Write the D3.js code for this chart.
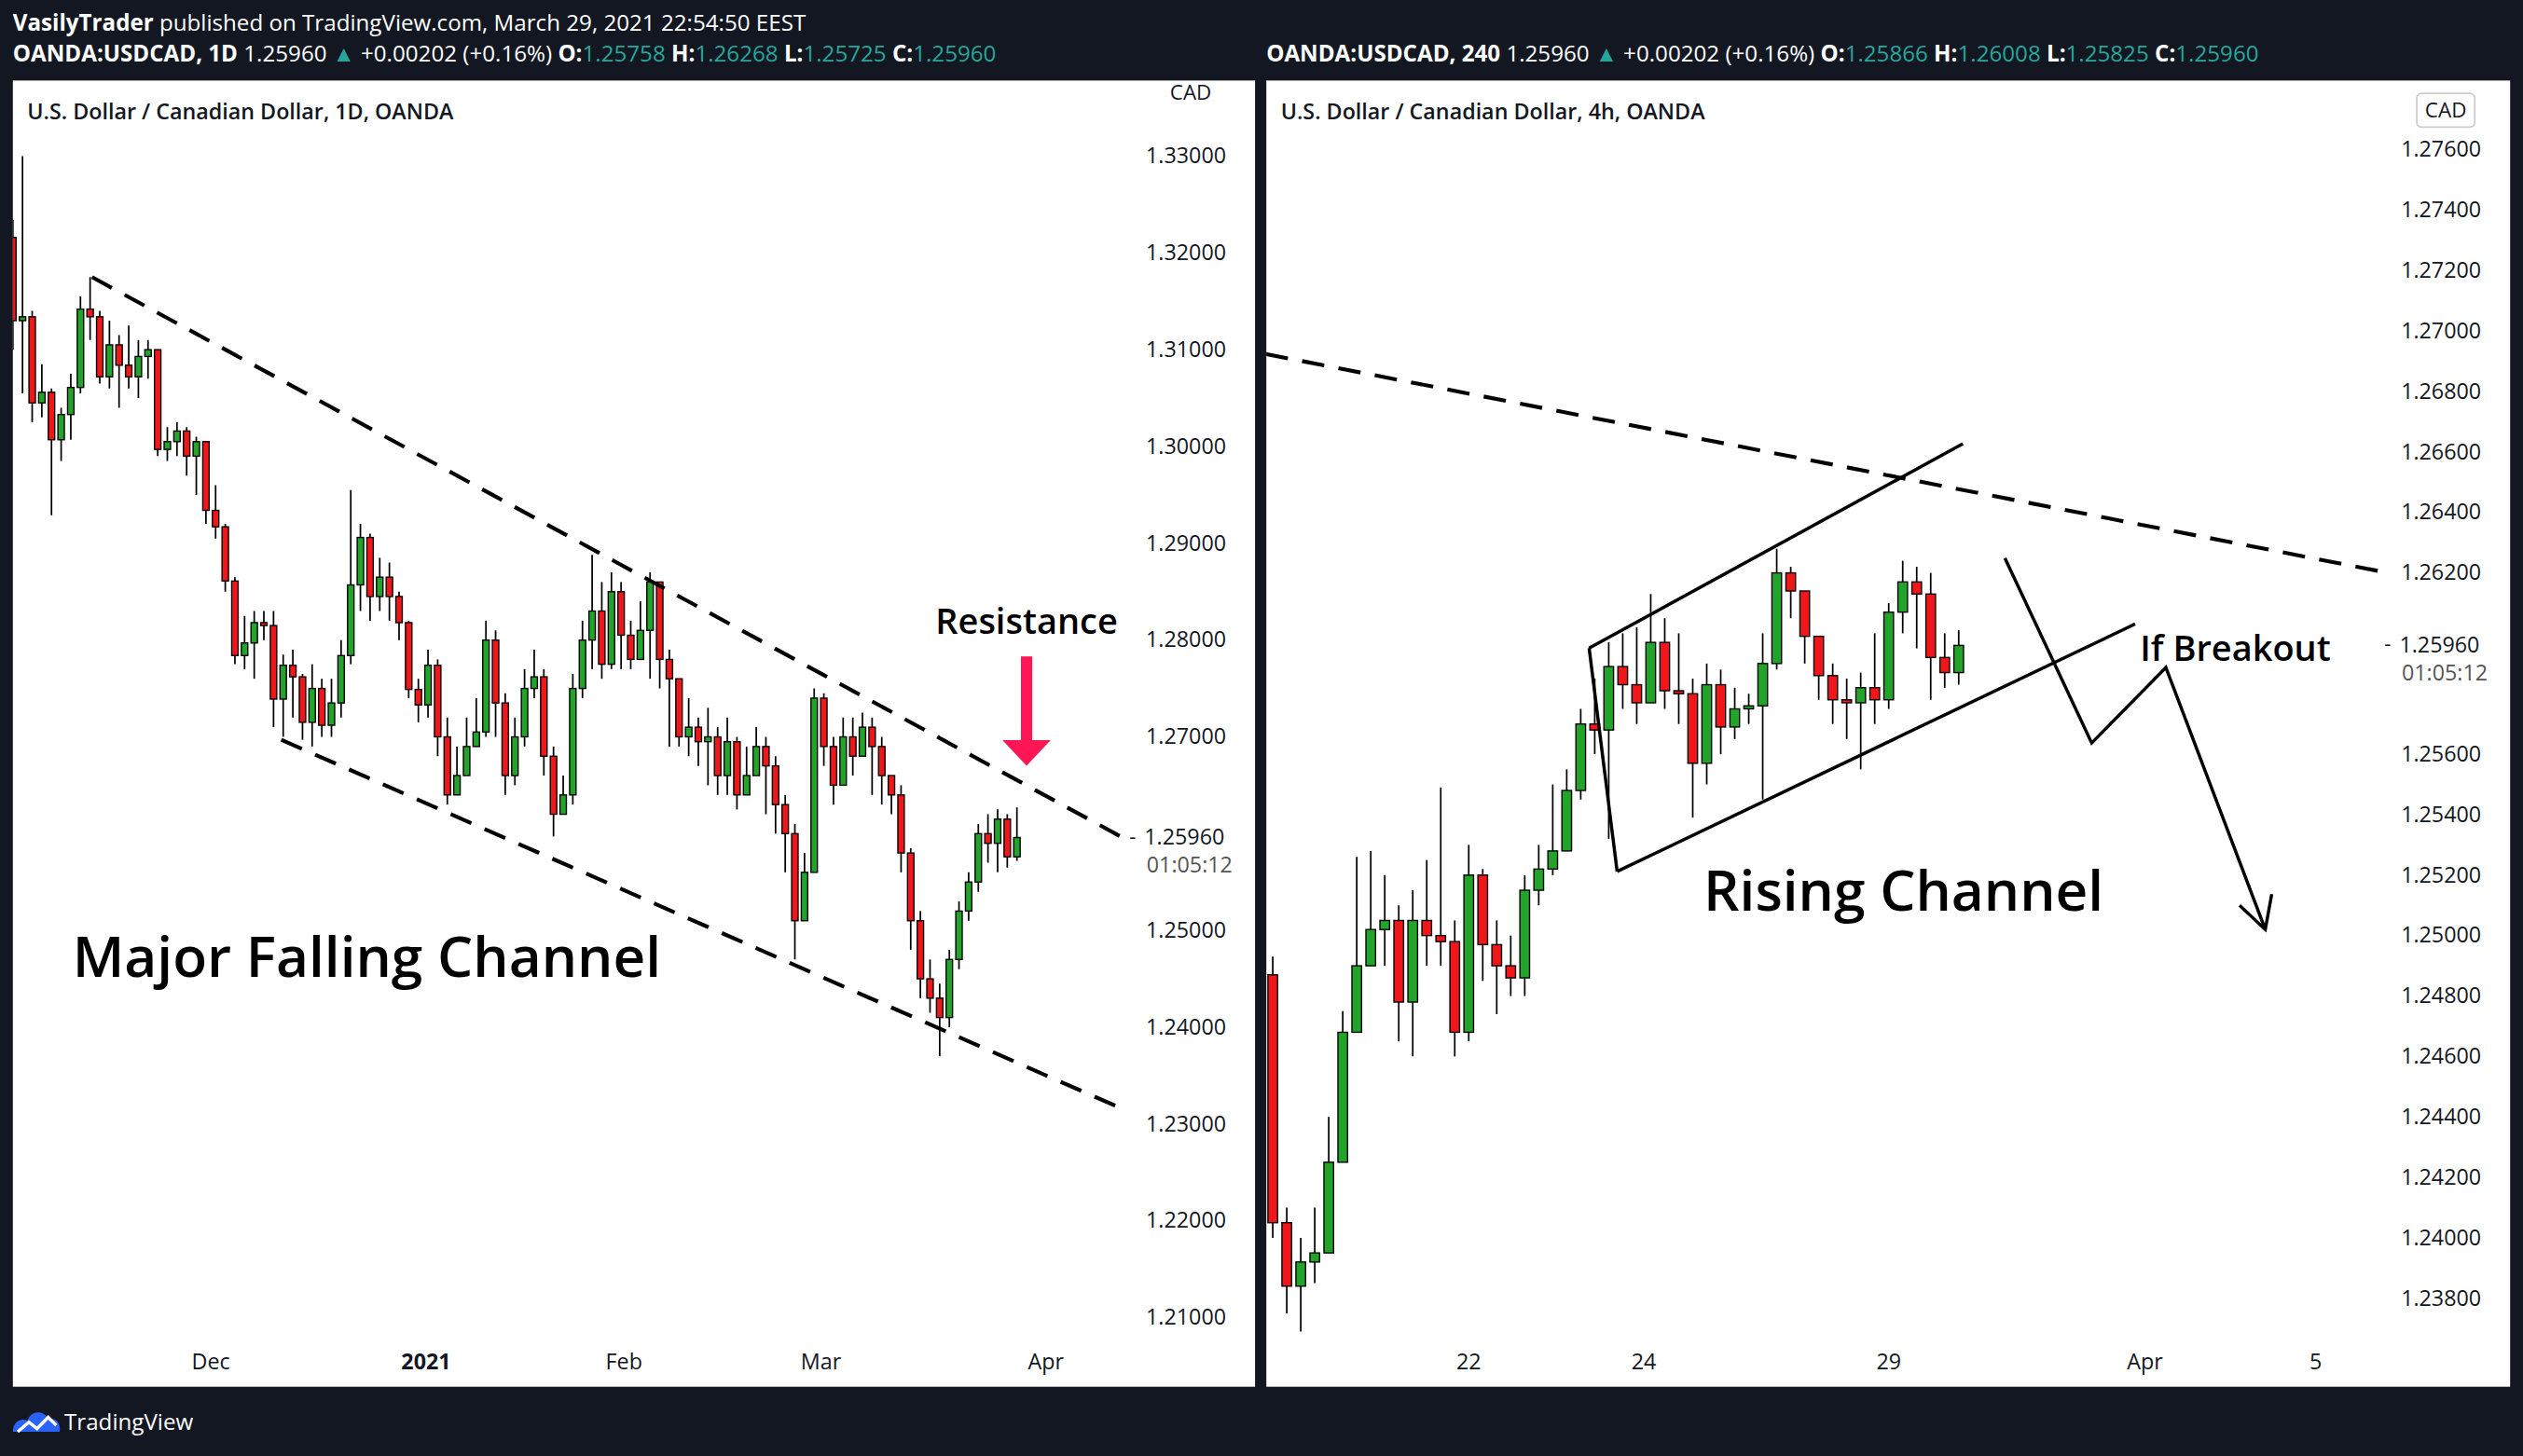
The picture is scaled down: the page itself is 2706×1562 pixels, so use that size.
<!DOCTYPE html>
<html><head><meta charset="utf-8">
<script src="https://cdn.jsdelivr.net/npm/d3@7"></script>
<style>body{margin:0;background:#131722;} text{font-family:"Open Sans",sans-serif;}</style>
</head><body>
<svg id="c" width="2706" height="1562" viewBox="0 0 1568 905"></svg>
<script>
// ---- daily chart data ----
var dOpen0 = 1.3216;
var dClose = [1.3130,1.3134,1.3045,1.3056,1.3007,1.3033,1.3061,1.3142,1.3134,1.3072,
  1.3105,1.3084,1.3072,1.3093,1.3100,1.2997,1.3005,1.3016,1.2990,1.3005,
  1.2934,1.2917,1.2861,1.2784,1.2797,1.2818,1.2815,1.2739,1.2774,1.2762,
  1.2715,1.2750,1.2712,1.2735,1.2784,1.2857,1.2906,1.2845,1.2865,1.2845,
  1.2818,1.2749,1.2733,1.2774,1.2700,1.2640,1.2660,1.2690,1.2705,1.2800,
  1.2735,1.2660,1.2700,1.2750,1.2762,1.2680,1.2620,1.2640,1.2750,1.2800,
  1.2830,1.2775,1.2850,1.2805,1.2780,1.2810,1.2860,1.2780,1.2760,1.2700,
  1.2710,1.2695,1.2700,1.2660,1.2695,1.2640,1.2660,1.2690,1.2670,1.2630,
  1.2600,1.2510,1.2560,1.2740,1.2690,1.2650,1.2700,1.2680,1.2710,1.2690,
  1.2660,1.2640,1.2580,1.2510,1.2450,1.2430,1.2410,1.2470,1.2520,1.2550,
  1.2600,1.2590,1.2615,1.2576,1.2596];
var dHigh = [1.3234,1.3300,1.3140,1.3085,1.3060,1.3040,1.3075,1.3155,1.3175,1.3140,
  1.3130,1.3115,1.3125,1.3110,1.3110,1.3100,1.3020,1.3025,1.3020,1.3010,
  1.3005,1.2960,1.2920,1.2865,1.2825,1.2830,1.2830,1.2830,1.2785,1.2790,
  1.2765,1.2775,1.2760,1.2760,1.2800,1.2955,1.2920,1.2910,1.2885,1.2880,
  1.2850,1.2820,1.2760,1.2790,1.2780,1.2720,1.2690,1.2720,1.2740,1.2820,
  1.2810,1.2745,1.2720,1.2770,1.2790,1.2770,1.2690,1.2660,1.2765,1.2820,
  1.2888,1.2860,1.2870,1.2860,1.2820,1.2840,1.2870,1.2860,1.2790,1.2760,
  1.2740,1.2720,1.2730,1.2710,1.2720,1.2700,1.2690,1.2710,1.2700,1.2680,
  1.2640,1.2610,1.2580,1.2750,1.2745,1.2700,1.2720,1.2720,1.2725,1.2720,
  1.2700,1.2660,1.2650,1.2585,1.2520,1.2470,1.2445,1.2480,1.2530,1.2560,
  1.2610,1.2620,1.2625,1.2620,1.2627];
var dLow = [1.3100,1.3055,1.3025,1.3030,1.2929,1.2985,1.3007,1.3055,1.3110,1.3065,
  1.3060,1.3040,1.3060,1.3050,1.3070,1.2990,1.2985,1.2990,1.2970,1.2950,
  1.2920,1.2905,1.2850,1.2775,1.2770,1.2760,1.2800,1.2710,1.2700,1.2720,
  1.2697,1.2690,1.2700,1.2700,1.2720,1.2775,1.2830,1.2820,1.2830,1.2820,
  1.2800,1.2740,1.2715,1.2720,1.2680,1.2630,1.2640,1.2670,1.2690,1.2700,
  1.2700,1.2640,1.2650,1.2690,1.2740,1.2660,1.2597,1.2620,1.2630,1.2740,
  1.2770,1.2760,1.2770,1.2770,1.2770,1.2790,1.2760,1.2750,1.2690,1.2690,
  1.2680,1.2670,1.2650,1.2640,1.2640,1.2625,1.2640,1.2660,1.2620,1.2600,
  1.2560,1.2470,1.2540,1.2560,1.2670,1.2630,1.2650,1.2660,1.2680,1.2640,
  1.2630,1.2620,1.2560,1.2480,1.2430,1.2415,1.2370,1.2400,1.2460,1.2510,
  1.2540,1.2570,1.2560,1.2565,1.2572];
var dTickPos = [20.5, 42.8, 63.3, 83.7, 107];
var dTickLab = ["Dec", "2021", "Feb", "Mar", "Apr"];
var dPriceTicks = [1.33,1.32,1.31,1.30,1.29,1.28,1.27,1.25,1.24,1.23,1.22,1.21];
var dUpper = [[8.2, 1.3175], [115.3, 1.2594]];
var dLower = [[27.8, 1.2697], [115.3, 1.2314]];

// ---- 4h chart data ----
var hOpen0 = 1.2487;
var hClose = [1.2405,1.2384,1.2392,1.2395,1.2425,1.2468,1.2490,1.2502,1.2505,1.2478,
  1.2505,1.2500,1.2498,1.2468,1.2520,1.2497,1.2490,1.2486,1.2515,1.2522,
  1.2528,1.2548,1.2570,1.2568,1.2589,1.2583,1.2577,1.2597,1.2581,1.2580,
  1.2557,1.2583,1.2569,1.2575,1.2576,1.2590,1.2620,1.2614,1.2599,1.2586,
  1.2578,1.2577,1.2582,1.2578,1.2607,1.2617,1.2613,1.2592,1.2587,1.2596];
var hHigh = [1.2493,1.2410,1.2400,1.2410,1.2440,1.2475,1.2526,1.2528,1.2520,1.2510,
  1.2515,1.2525,1.2549,1.2505,1.2530,1.2522,1.2505,1.2500,1.2520,1.2530,
  1.2550,1.2555,1.2575,1.2585,1.2597,1.2600,1.2602,1.2613,1.2605,1.2600,
  1.2585,1.2590,1.2588,1.2582,1.2580,1.2600,1.2628,1.2622,1.2614,1.2596,
  1.2590,1.2585,1.2587,1.2600,1.2610,1.2624,1.2622,1.2620,1.2600,1.2601];
var hLow = [1.2400,1.2375,1.2369,1.2385,1.2420,1.2460,1.2480,1.2495,1.2490,1.2465,
  1.2460,1.2490,1.2490,1.2460,1.2465,1.2485,1.2474,1.2480,1.2480,1.2510,
  1.2520,1.2540,1.2545,1.2560,1.2532,1.2575,1.2570,1.2585,1.2575,1.2570,
  1.2539,1.2550,1.2560,1.2565,1.2570,1.2545,1.2588,1.2605,1.2590,1.2578,
  1.2570,1.2565,1.2555,1.2570,1.2575,1.2600,1.2595,1.2578,1.2582,1.2583];
var hTickPos = [14, 26.5, 44, 62.3, 74.5];
var hTickLab = ["22", "24", "29", "Apr", "5"];
var hPriceTicks = [1.276,1.274,1.272,1.270,1.268,1.266,1.264,1.262,1.256,1.254,1.252,1.250,1.248,1.246,1.244,1.242,1.240,1.238];
var hResist = [[-0.5, 1.26924], [79, 1.26206]];
var hUpper = [[22.6, 1.25951], [49.3, 1.26627]];
var hSide = [[22.6, 1.25951], [24.6, 1.25212]];
var hLower = [[24.6, 1.25212], [61.6, 1.26031]];
var hZig = [[52.3, 1.26249], [58.5, 1.25637], [63.8, 1.25887], [70.9, 1.25020]];

var UP = "#22a32a", DN = "#f0171b", TEAL = "#26a69a";
var svg = d3.select("#c");
svg.append("rect").attr("width", 1568).attr("height", 905).attr("fill", "#131722");

function candles(arr) {
  var o = arr[0], out = [];
  for (var i = 0; i < arr[1].length; i++) {
    var c = arr[1][i];
    out.push({i: i, o: o, c: c, h: Math.max(arr[2][i], o, c), l: Math.min(arr[3][i], o, c)});
    o = c;
  }
  return out;
}

function panel(cfg) {
  var g = svg.append("g");
  g.append("rect").attr("x", cfg.x0).attr("y", 50).attr("width", cfg.x1 - cfg.x0).attr("height", 812).attr("fill", "#fff");
  var id = "clip" + cfg.x0;
  svg.append("defs").append("clipPath").attr("id", id)
    .append("rect").attr("x", cfg.x0).attr("y", 50).attr("width", cfg.plotR - cfg.x0).attr("height", 780);
  var x = cfg.x, y = cfg.y;
  var plot = g.append("g").attr("clip-path", "url(#" + id + ")");
  var data = candles(cfg.data);
  var cg = plot.selectAll(".cd").data(data).enter().append("g");
  cg.append("line").attr("x1", function(d){return x(d.i);}).attr("x2", function(d){return x(d.i);})
    .attr("y1", function(d){return y(d.h);}).attr("y2", function(d){return y(d.l);})
    .attr("stroke", "#000").attr("stroke-width", 1);
  cg.append("rect").attr("x", function(d){return x(d.i) - cfg.bw / 2;})
    .attr("y", function(d){return y(Math.max(d.o, d.c));})
    .attr("width", cfg.bw)
    .attr("height", function(d){return Math.max(1, Math.abs(y(d.o) - y(d.c)));})
    .attr("fill", function(d){return d.c >= d.o ? UP : DN;})
    .attr("stroke", "#000").attr("stroke-width", 0.8);
  var line = d3.line().x(function(p){return x(p[0]);}).y(function(p){return y(p[1]);});
  cfg.lines.forEach(function(l) {
    plot.append("path").attr("d", line(l.pts)).attr("fill", "none").attr("stroke", "#000")
      .attr("stroke-width", l.dash ? 2.4 : 2).attr("stroke-dasharray", l.dash ? "14,9" : null);
  });
  // price axis
  g.selectAll(".pt").data(cfg.ticks).enter().append("text")
    .attr("x", cfg.axX).attr("y", function(d){return y(d) + 4.5;})
    .attr("text-anchor", "end").attr("font-size", 13.5).attr("fill", "#131722")
    .text(function(d){return d.toFixed(5);});
  g.append("text").attr("x", cfg.axX - 1).attr("y", y(1.2596) + 4.5).attr("text-anchor", "end")
    .attr("font-size", 13.5).attr("fill", "#131722").text("1.25960");
  g.append("text").attr("x", cfg.axX + 4).attr("y", y(1.2596) + 22).attr("text-anchor", "end")
    .attr("font-size", 13.5).attr("fill", "#555").text("01:05:12");
  g.append("text").attr("x", cfg.axX - 56).attr("y", y(1.2596) + 3.5).attr("text-anchor", "end")
    .attr("font-size", 13).attr("fill", "#131722").text("-");
  // time axis
  g.selectAll(".tt").data(cfg.tpos).enter().append("text")
    .attr("x", function(d){return x(d);}).attr("y", 851).attr("text-anchor", "middle")
    .attr("font-size", 13.5).attr("font-weight", function(d, i){return cfg.tlab[i] === "2021" ? 700 : 400;})
    .attr("fill", "#131722").text(function(d, i){return cfg.tlab[i];});
  g.append("text").attr("x", cfg.x0 + 9).attr("y", 74).attr("font-size", 13.5).attr("font-weight", 600)
    .attr("fill", "#131722").text(cfg.title);
  return {g: g, plot: plot, line: line};
}

// left panel
var xL = d3.scaleLinear().domain([0, 1]).range([8, 14]);
var yL = d3.scaleLinear().domain([1.33, 1.21]).range([97, 819]);
var L = panel({x0: 8, x1: 780, plotR: 705, x: xL, y: yL, bw: 4, axX: 762,
  data: [dOpen0, dClose, dHigh, dLow], ticks: dPriceTicks, tpos: dTickPos, tlab: dTickLab,
  title: "U.S. Dollar / Canadian Dollar, 1D, OANDA",
  lines: [{pts: dUpper, dash: true}, {pts: dLower, dash: true}]});
L.g.append("text").attr("x", 740).attr("y", 62).attr("text-anchor", "middle").attr("font-size", 13).attr("fill", "#131722").text("CAD");
L.g.append("text").attr("x", 45).attr("y", 607).attr("font-size", 35).attr("font-weight", 600).attr("fill", "#000").text("Major Falling Channel");
L.g.append("text").attr("x", 638).attr("y", 394).attr("text-anchor", "middle").attr("font-size", 22).attr("font-weight", 600).attr("fill", "#000").text("Resistance");
L.g.append("rect").attr("x", 634.5).attr("y", 408).attr("width", 7).attr("height", 54).attr("fill", "#ff1654");
L.g.append("path").attr("d", "M623,460 L653,460 L638,476 Z").attr("fill", "#ff1654");

// right panel
var xR = d3.scaleLinear().domain([0, 1]).range([791, 799.7]);
var yR = d3.scaleLinear().domain([1.276, 1.238]).range([93, 807]);
var R = panel({x0: 787, x1: 1560, plotR: 1485, x: xR, y: yR, bw: 6, axX: 1542,
  data: [hOpen0, hClose, hHigh, hLow], ticks: hPriceTicks, tpos: hTickPos, tlab: hTickLab,
  title: "U.S. Dollar / Canadian Dollar, 4h, OANDA",
  lines: [{pts: hResist, dash: true}, {pts: hUpper}, {pts: hSide}, {pts: hLower}, {pts: hZig}]});
R.g.append("rect").attr("x", 1502).attr("y", 58).attr("width", 36).attr("height", 21).attr("rx", 3)
  .attr("fill", "#fff").attr("stroke", "#ccc");
R.g.append("text").attr("x", 1520).attr("y", 73).attr("text-anchor", "middle").attr("font-size", 13).attr("fill", "#131722").text("CAD");
var zEnd = hZig[hZig.length - 1];
R.plot.append("path").attr("d", "M" + (xR(zEnd[0]) - 16) + "," + (yR(zEnd[1]) - 15) + " L" + xR(zEnd[0]) + "," + yR(zEnd[1]) + " L" + (xR(zEnd[0]) + 4) + "," + (yR(zEnd[1]) - 22))
  .attr("fill", "none").attr("stroke", "#000").attr("stroke-width", 2);
R.g.append("text").attr("x", 1183).attr("y", 566).attr("text-anchor", "middle").attr("font-size", 35).attr("font-weight", 600).attr("fill", "#000").text("Rising Channel");
R.g.append("text").attr("x", 1330).attr("y", 411).attr("font-size", 22).attr("font-weight", 600).attr("fill", "#000").text("If Breakout");

// header
function header(x, y, parts) {
  var t = svg.append("text").attr("x", x).attr("y", y).attr("font-size", 14).attr("fill", "#fff");
  parts.forEach(function(p) {
    t.append("tspan").attr("font-weight", p[1] ? 700 : 400).attr("fill", p[2] || "#fff").text(p[0]);
  });
}
header(8, 19, [["VasilyTrader", 1], [" published on TradingView.com, March 29, 2021 22:54:50 EEST"]]);
function quote(x, tf, o, h, l) {
  header(x, 38, [["OANDA:USDCAD, " + tf, 1], ["  1.25960 "], ["\u25B2", 0, TEAL], [" +0.00202 (+0.16%) "],
    ["O:", 1], [o, 0, TEAL], [" H:", 1], [h, 0, TEAL], [" L:", 1], [l, 0, TEAL], [" C:", 1], ["1.25960", 0, TEAL]]);
}
quote(8, "1D", "1.25758", "1.26268", "1.25725");
quote(787, "240", "1.25866", "1.26008", "1.25825");

// footer logo
var f = svg.append("g").attr("transform", "translate(8,876)");
f.append("path").attr("d", "M0,14 C0,8 5,5 9,7 C11,1 19,0 22,6 C27,5 30,9 29,14 Z").attr("fill", "#2962ff");
f.append("path").attr("d", "M3,14 L10,8 L15,12 L22,5 L27,10").attr("fill", "none").attr("stroke", "#fff").attr("stroke-width", 2);
svg.append("text").attr("x", 40).attr("y", 889).attr("font-size", 14).attr("fill", "#fff").text("TradingView");
</script>
</body></html>
